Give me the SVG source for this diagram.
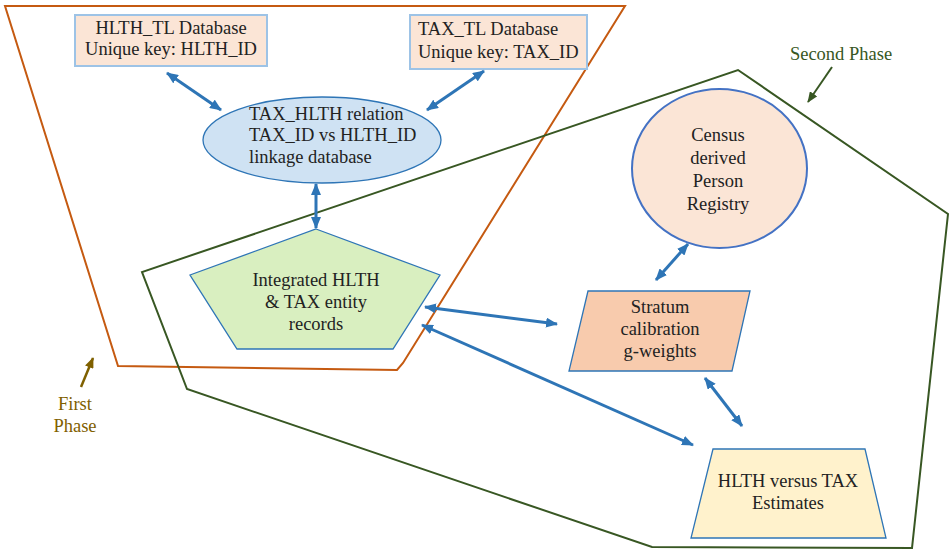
<svg xmlns="http://www.w3.org/2000/svg" width="949" height="550" viewBox="0 0 949 550">
<defs>
<style>
text{font-family:"Liberation Serif","Times New Roman",serif;font-size:18.5px;fill:#222}
.c{text-anchor:middle}
.conn{stroke:#2e75b6;stroke-width:3;fill:none;marker-start:url(#ah);marker-end:url(#ah)}
.node{stroke:#2e75b6;stroke-width:1.3}
</style>
<marker id="ah" viewBox="0 0 12 10" refX="11" refY="5" markerWidth="12" markerHeight="10" markerUnits="userSpaceOnUse" orient="auto-start-reverse"><path d="M0,0 L12,5 L0,10 z" fill="#2e75b6"/></marker>
<marker id="ahg" viewBox="0 0 12 10" refX="11" refY="5" markerWidth="11" markerHeight="9" markerUnits="userSpaceOnUse" orient="auto"><path d="M0,0 L12,5 L0,10 z" fill="#385723"/></marker>
<marker id="ahb" viewBox="0 0 12 10" refX="11" refY="5" markerWidth="11" markerHeight="9" markerUnits="userSpaceOnUse" orient="auto"><path d="M0,0 L12,5 L0,10 z" fill="#7f6000"/></marker>
</defs>
<rect width="949" height="550" fill="#fff"/>
<g id="phases" fill="none" stroke-width="2">
<polygon points="5,6 625,6 403,363 397,370 118,366" stroke="#c55a11"/>
<polygon points="738,70 948,214 912,548 652,547 187,389 142,272" stroke="#385723"/>
</g>
<g id="phase-labels">
<text x="841" y="60" class="c" style="fill:#385723">Second Phase</text>
<line x1="832" y1="67" x2="808" y2="102" stroke="#385723" stroke-width="2" marker-end="url(#ahg)"/>
<text x="75" y="410" class="c" style="fill:#7f6000">First</text>
<text x="75" y="432" class="c" style="fill:#7f6000">Phase</text>
<line x1="81" y1="387" x2="93" y2="358" stroke="#7f6000" stroke-width="2.5" marker-end="url(#ahb)"/>
</g>
<g id="hlth-tl">
<rect x="75" y="15" width="192" height="51" fill="#fbe5d6" stroke="#9dc3e6" stroke-width="2"/>
<text x="171" y="34" class="c">HLTH_TL Database</text>
<text x="171" y="55" class="c">Unique key: HLTH_ID</text>
</g>
<g id="tax-tl">
<rect x="410" y="15" width="177" height="54" fill="#fbe5d6" stroke="#9dc3e6" stroke-width="2"/>
<text x="418" y="35">TAX_TL Database</text>
<text x="418" y="58">Unique key: TAX_ID</text>
</g>
<g id="relation">
<ellipse cx="322" cy="140" rx="119" ry="43" fill="#cfe2f3" class="node"/>
<text x="249" y="120">TAX_HLTH relation</text>
<text x="249" y="141">TAX_ID vs HLTH_ID</text>
<text x="249" y="163">linkage database</text>
</g>
<g id="integrated">
<polygon points="316,229 440,275 393,349 237,349 190,275" fill="#d9efc0" class="node"/>
<text x="316" y="286" class="c">Integrated HLTH</text>
<text x="316" y="308" class="c">&amp; TAX entity</text>
<text x="316" y="330" class="c">records</text>
</g>
<g id="census">
<ellipse cx="719.5" cy="168.5" rx="87.5" ry="79.5" fill="#fbe5d6" stroke="#4472c4" stroke-width="2"/>
<text x="718" y="141" class="c">Census</text>
<text x="718" y="164" class="c">derived</text>
<text x="718" y="187" class="c">Person</text>
<text x="718" y="210" class="c">Registry</text>
</g>
<g id="stratum">
<polygon points="588,291 750,291 732,371 569,371" fill="#f8cbad" class="node"/>
<text x="660" y="313" class="c">Stratum</text>
<text x="660" y="335" class="c">calibration</text>
<text x="660" y="357" class="c">g-weights</text>
</g>
<g id="estimates">
<polygon points="713,449 865,449 886,538 691,538" fill="#fff2cc" class="node"/>
<text x="788" y="487" class="c">HLTH versus TAX</text>
<text x="788" y="509" class="c">Estimates</text>
</g>
<g id="connectors">
<line class="conn" x1="167" y1="73" x2="221" y2="110"/>
<line class="conn" x1="484" y1="71" x2="427" y2="110"/>
<line class="conn" x1="316" y1="184" x2="316" y2="228"/>
<line class="conn" x1="425" y1="307" x2="557" y2="324"/>
<line class="conn" x1="422" y1="325" x2="693" y2="445"/>
<line class="conn" x1="688" y1="244" x2="656" y2="280"/>
<line class="conn" x1="705" y1="378" x2="742" y2="426"/>
</g>
</svg>
